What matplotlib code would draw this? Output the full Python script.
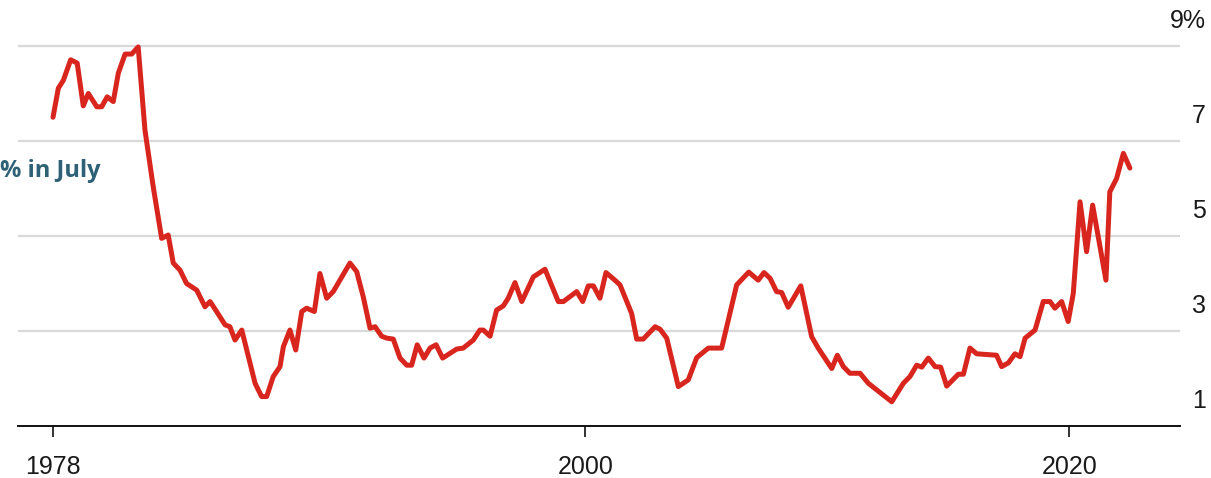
import numpy as np
import matplotlib.pyplot as plt

# quarterly-ish readings
years = [1978.00, 1978.22, 1978.43, 1978.73, 1979.00, 1979.25, 1979.46, 1979.81, 1980.01, 1980.24,
         1980.49, 1980.70, 1980.98, 1981.25, 1981.52, 1981.80, 1982.14, 1982.49, 1982.76, 1982.97,
         1983.25, 1983.52, 1983.94, 1984.28, 1984.49, 1984.76, 1985.11, 1985.31, 1985.52, 1985.80,
         1986.35, 1986.62, 1986.83, 1987.10, 1987.38, 1987.52, 1987.79, 1988.03, 1988.28, 1988.48,
         1988.80, 1989.03, 1989.31, 1989.58, 1990.27, 1990.55, 1990.82, 1991.10, 1991.31, 1991.58,
         1991.79, 1992.06, 1992.34, 1992.62, 1992.82, 1993.05, 1993.33, 1993.58, 1993.83, 1994.10,
         1994.68, 1994.95, 1995.37, 1995.64, 1995.78, 1996.06, 1996.33, 1996.61, 1996.81, 1997.09,
         1997.37, 1997.85, 1998.33, 1998.88, 1999.09, 1999.64, 1999.89, 2000.12, 2000.33, 2000.60,
         2000.85, 2001.22, 2001.43, 2001.91, 2002.12, 2002.39, 2002.88, 2003.08, 2003.36, 2003.84,
         2004.25, 2004.60, 2005.08, 2005.63, 2006.25, 2006.75, 2007.14, 2007.38, 2007.63, 2007.90,
         2008.11, 2008.38, 2008.90, 2009.35, 2009.62, 2010.18, 2010.41, 2010.66, 2010.93, 2011.35,
         2011.69, 2012.66, 2013.14, 2013.41, 2013.69, 2013.90, 2014.17, 2014.45, 2014.68, 2014.93,
         2015.41, 2015.62, 2015.89, 2016.17, 2016.99, 2017.20, 2017.48, 2017.75, 2017.96, 2018.17,
         2018.58, 2018.92, 2019.20, 2019.40, 2019.68, 2019.95, 2020.16, 2020.44, 2020.71, 2020.96,
         2021.51, 2021.67, 2021.95, 2022.23, 2022.50]
rate = [7.50, 8.11, 8.28, 8.71, 8.64, 7.74, 8.00, 7.72, 7.72, 7.93,
        7.83, 8.43, 8.83, 8.83, 8.98, 7.23, 6.04, 4.95, 5.02, 4.43,
        4.28, 4.00, 3.86, 3.51, 3.62, 3.41, 3.13, 3.09, 2.81, 3.02,
        1.90, 1.62, 1.62, 2.04, 2.25, 2.67, 3.02, 2.60, 3.41, 3.48,
        3.41, 4.21, 3.69, 3.83, 4.43, 4.25, 3.72, 3.06, 3.09, 2.89,
        2.85, 2.83, 2.43, 2.28, 2.28, 2.71, 2.43, 2.64, 2.71, 2.43,
        2.62, 2.64, 2.81, 3.02, 3.02, 2.89, 3.44, 3.53, 3.69, 4.02,
        3.62, 4.14, 4.30, 3.62, 3.62, 3.83, 3.62, 3.95, 3.95, 3.69,
        4.23, 4.07, 3.97, 3.37, 2.83, 2.83, 3.09, 3.04, 2.85, 1.83,
        1.97, 2.44, 2.64, 2.64, 3.97, 4.24, 4.07, 4.23, 4.11, 3.83,
        3.81, 3.50, 3.95, 2.88, 2.64, 2.21, 2.49, 2.25, 2.11, 2.11,
        1.90, 1.51, 1.90, 2.04, 2.28, 2.24, 2.43, 2.25, 2.24, 1.84,
        2.09, 2.09, 2.64, 2.52, 2.49, 2.25, 2.33, 2.52, 2.46, 2.85,
        3.02, 3.62, 3.62, 3.48, 3.62, 3.20, 3.79, 5.72, 4.67, 5.65,
        4.07, 5.93, 6.21, 6.74, 6.43]

xticks = [1978, 2000, 2020]
ygrid = [3, 5, 7, 9]
ylabels = ["1", "3", "5", "7", "9%"]
ylabel_vals = [1, 3, 5, 7, 9]

plt.rcParams['font.family'] = ['Liberation Sans', 'DejaVu Sans']

fig = plt.figure(figsize=(12.11, 4.78), dpi=100)
ax = fig.add_axes([18/1211, 52/478, 1162/1211, 389.5/478])

for g in ygrid:
    ax.axhline(g, color='#d9d9d9', lw=1.6, zorder=1)

ax.plot(years, rate, color='#d8261f', lw=3.6, solid_joinstyle='round',
        solid_capstyle='round', zorder=3)

ax.set_xlim(1978 + (18 - 53)/24.2, 1978 + (1180 - 53)/24.2)
ax.set_ylim(1, 9.2)

for s in ['top', 'right', 'left']:
    ax.spines[s].set_visible(False)
ax.spines['bottom'].set_color('#111111')
ax.spines['bottom'].set_linewidth(1.4)

ax.set_xticks(xticks)
ax.set_xticklabels([str(x) for x in xticks], fontsize=18, color='#1a1a1a')
ax.tick_params(axis='x', length=8, width=1.3, color='#222222', pad=13)
ax.set_yticks([])

trans = ax.get_yaxis_transform()
for v, lab in zip(ylabel_vals, ylabels):
    ax.text((1206 - 18)/1162, v + 0.53, lab, transform=trans, ha='right', va='center',
            fontsize=18, color='#1a1a1a')

fig.text(101/1211, 1 - 171/478, "% in July", ha='right', va='center', fontsize=17,
         fontweight='bold', color='#2e6175', family=['Open Sans', 'DejaVu Sans'])

fig.savefig('out.png', dpi=100)
